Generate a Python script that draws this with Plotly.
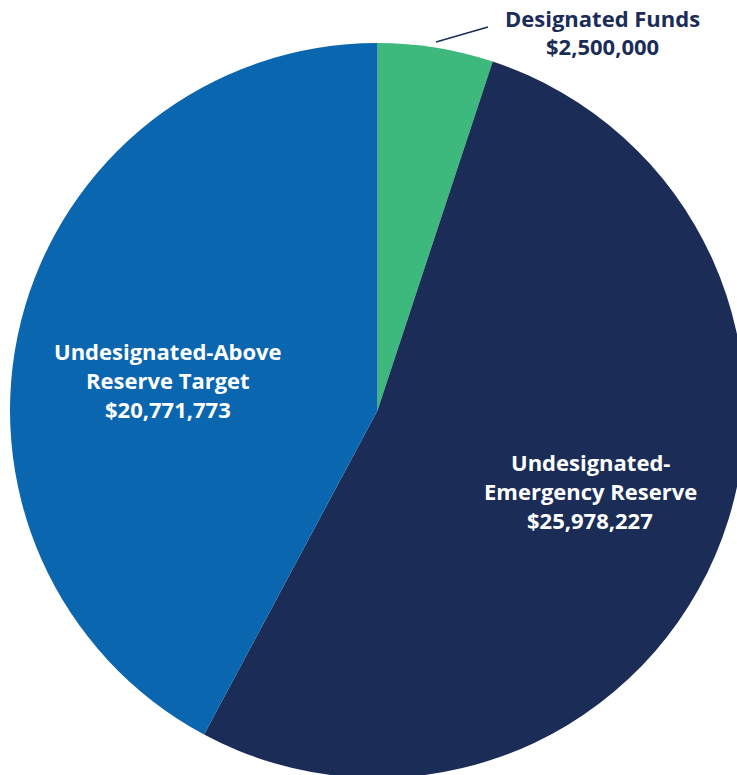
import plotly.graph_objects as go

labels = ["Designated Funds", "Undesignated-Emergency Reserve", "Undesignated-Above Reserve Target"]
label_lines = [["Designated Funds"], ["Undesignated-", "Emergency Reserve"], ["Undesignated-Above", "Reserve Target"]]
values = [2500000, 25978227, 20771773]
colors = ["#3DB97D", "#1B2D57", "#0B66B0"]

W, H = 746, 778

fig = go.Figure(go.Pie(
    labels=labels,
    values=values,
    sort=False,
    direction="clockwise",
    rotation=0,
    marker=dict(colors=colors, line=dict(width=0)),
    textinfo="none",
    hoverinfo="label+value",
    domain=dict(x=[10 / W, 745 / W], y=[0, 735 / H]),
    showlegend=False,
))

def px(x, y):
    return x / W, 1 - y / H

def fmt(v):
    return "${:,}".format(v)

LINE = 28.5
label_pos = [(602, 32), (590, 491), (168, 380)]
label_colors = ["#1B2D57", "white", "white"]
for lines, v, (x, y), c in zip(label_lines, values, label_pos, label_colors):
    all_lines = lines + [fmt(v)]
    n = len(all_lines)
    for i, t in enumerate(all_lines):
        ly = y + (i - (n - 1) / 2) * LINE
        ax, ay = px(x, ly)
        fig.add_annotation(
            x=ax, y=ay, xref="paper", yref="paper",
            text=t, showarrow=False, align="center",
            font=dict(family="Open Sans", size=22, color=c, weight="bold"),
            xanchor="center", yanchor="middle",
        )

x0, y0 = px(436, 42)
x1, y1 = px(488, 27)
fig.add_shape(type="line", xref="paper", yref="paper", x0=x0, y0=y0, x1=x1, y1=y1,
              line=dict(color="#1B2D57", width=1.5))

fig.update_layout(
    width=W, height=H,
    margin=dict(l=0, r=0, t=0, b=0),
    paper_bgcolor="white", plot_bgcolor="white",
)

fig.write_html("out.html", post_script=(
    "document.body.style.margin='0';"
    "document.body.style.overflow='hidden';"
    "document.documentElement.style.overflow='hidden';"
))
